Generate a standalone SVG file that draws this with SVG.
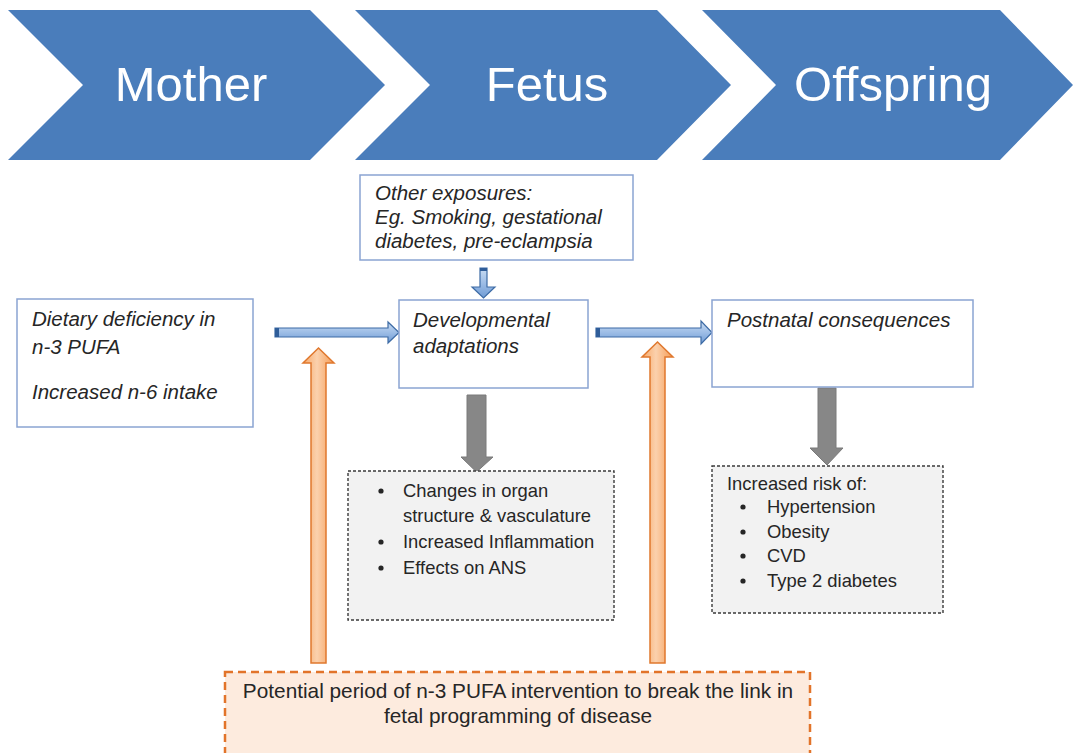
<svg xmlns="http://www.w3.org/2000/svg" width="1073" height="753" viewBox="0 0 1073 753">
  <style>
    .chev { fill: #4a7dbb; }
    .chev-label { font-family: "Liberation Sans", Arial, sans-serif; font-size: 49px; fill: #ffffff; text-anchor: middle; }
    .box { fill: #ffffff; stroke: #8aa4d2; stroke-width: 1.5; }
    .dash { fill: #f2f2f2; stroke: #3a3a3a; stroke-width: 1.4; stroke-dasharray: 3 2; }
    .obox { fill: #fdebde; stroke: #e2742a; stroke-width: 2.5; stroke-dasharray: 8 5; }
    .it { font-family: "Liberation Sans", Arial, sans-serif; font-style: italic; font-size: 20.5px; fill: #262626; }
    .tx { font-family: "Liberation Sans", Arial, sans-serif; font-size: 18.4px; fill: #262626; }
    .tx2 { font-family: "Liberation Sans", Arial, sans-serif; font-size: 20.8px; fill: #262626; text-anchor: middle; }
    .barrow { fill: url(#blueGrad); stroke: #3d6ba5; stroke-width: 1.2; }
    .oarrow { fill: url(#orangeGrad); stroke: #e0782e; stroke-width: 1.5; }
    .garrow { fill: #878787; stroke: #7a7a7a; stroke-width: 1; }
  </style>
  <defs>
    <linearGradient id="blueGrad" x1="0" y1="0" x2="0" y2="1">
      <stop offset="0" stop-color="#c9dcf2"/>
      <stop offset="0.5" stop-color="#9dbde6"/>
      <stop offset="1" stop-color="#6f9bd4"/>
    </linearGradient>
    <linearGradient id="orangeGrad" x1="0" y1="0" x2="1" y2="0">
      <stop offset="0" stop-color="#f7a766"/>
      <stop offset="0.45" stop-color="#fbd1ad"/>
      <stop offset="1" stop-color="#f59c55"/>
    </linearGradient>
  </defs>

  <!-- stage chevrons -->
  <g id="mother">
    <path class="chev" d="M8,10 L310,10 L385,85 L310,160 L8,160 L83,85 Z"/>
    <text class="chev-label" x="191" y="101">Mother</text>
  </g>
  <g id="fetus">
    <path class="chev" d="M355,10 L657,10 L731,85 L657,160 L355,160 L430,85 Z"/>
    <text class="chev-label" x="547" y="101">Fetus</text>
  </g>
  <g id="offspring">
    <path class="chev" d="M702,10 L1000,10 L1073,85 L1000,160 L702,160 L776,85 Z"/>
    <text class="chev-label" x="893" y="101">Offspring</text>
  </g>

  <!-- connectors -->
  <g id="connectors">
    <!-- exposures down to developmental adaptations -->
    <path class="barrow" d="M480,268 L487,268 L487,287 L495,287 L483.5,298 L472,287 L480,287 Z"/>
    <rect x="480" y="268" width="7" height="3" fill="#2f5d99"/>
    <!-- mother to developmental adaptations -->
    <path class="barrow" d="M275,328 L388,328 L388,322 L399,332.5 L388,343 L388,337 L275,337 Z"/>
    <rect x="275" y="328" width="4" height="9" fill="#2f5d99"/>
    <!-- developmental adaptations to postnatal consequences -->
    <path class="barrow" d="M596,328 L701,328 L701,321 L712,332.5 L701,344 L701,337 L596,337 Z"/>
    <rect x="596" y="328" width="4" height="9" fill="#2f5d99"/>
    <!-- grey arrows down to outcome lists -->
    <path class="garrow" d="M467,395 L486,395 L486,457 L493,457 L476.5,472 L461,457 L467,457 Z"/>
    <path class="garrow" d="M818,388 L836,388 L836,448 L843,448 L827,465 L810,448 L818,448 Z"/>
    <!-- intervention arrows up -->
    <path class="oarrow" d="M311,663 L311,363 L303,363 L318.5,348 L334,363 L326,363 L326,663 Z"/>
    <path class="oarrow" d="M650,663 L650,357 L642,357 L657.5,342 L673,357 L665,357 L665,663 Z"/>
  </g>

  <g id="other-exposures">
    <rect class="box" x="360" y="175" width="273" height="85"/>
    <text class="it" x="375" y="200">Other exposures:</text>
    <text class="it" x="375" y="224">Eg. Smoking, gestational</text>
    <text class="it" x="375" y="248">diabetes, pre-eclampsia</text>
  </g>

  <g id="dietary">
    <rect class="box" x="17" y="299" width="236" height="128"/>
    <text class="it" x="32" y="326">Dietary deficiency in</text>
    <text class="it" x="32" y="354">n-3 PUFA</text>
    <text class="it" x="32" y="399">Increased n-6 intake</text>
  </g>

  <g id="developmental">
    <rect class="box" x="399" y="300" width="189" height="88"/>
    <text class="it" x="413" y="327">Developmental</text>
    <text class="it" x="413" y="353">adaptations</text>
  </g>

  <g id="postnatal">
    <rect class="box" x="712" y="300" width="261" height="87"/>
    <text class="it" x="727" y="327">Postnatal consequences</text>
  </g>

  <g id="fetal-effects">
    <rect class="dash" x="348" y="471" width="266" height="149"/>
    <circle cx="381" cy="491" r="2.6" fill="#262626"/>
    <circle cx="381" cy="542" r="2.6" fill="#262626"/>
    <circle cx="381" cy="568" r="2.6" fill="#262626"/>
    <text class="tx" x="403" y="497">Changes in organ</text>
    <text class="tx" x="403" y="522">structure &amp; vasculature</text>
    <text class="tx" x="403" y="548">Increased Inflammation</text>
    <text class="tx" x="403" y="574">Effects on ANS</text>
  </g>

  <g id="risks">
    <rect class="dash" x="712" y="466" width="231" height="147"/>
    <text class="tx" x="727" y="490">Increased risk of:</text>
    <circle cx="743" cy="507" r="2.6" fill="#262626"/>
    <circle cx="743" cy="532" r="2.6" fill="#262626"/>
    <circle cx="743" cy="556" r="2.6" fill="#262626"/>
    <circle cx="743" cy="581" r="2.6" fill="#262626"/>
    <text class="tx" x="767" y="513">Hypertension</text>
    <text class="tx" x="767" y="538">Obesity</text>
    <text class="tx" x="767" y="562">CVD</text>
    <text class="tx" x="767" y="587">Type 2 diabetes</text>
  </g>

  <g id="intervention">
    <rect class="obox" x="225" y="672" width="585" height="100"/>
    <text class="tx2" x="518" y="698">Potential period of n-3 PUFA intervention to break the link in</text>
    <text class="tx2" x="518" y="723">fetal programming of disease</text>
  </g>
</svg>
